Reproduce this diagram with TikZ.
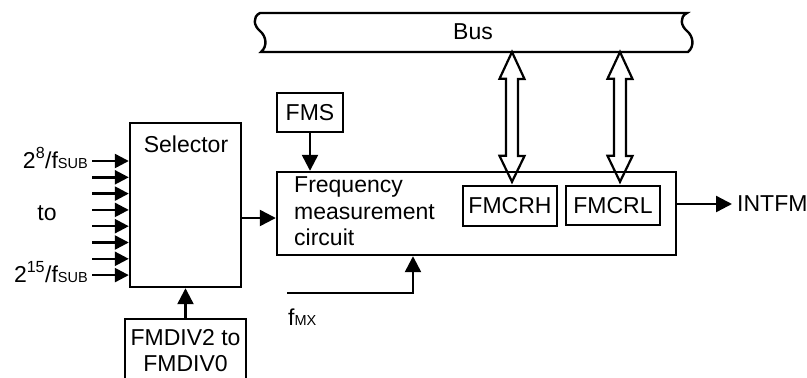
\documentclass[tikz,border=0pt]{standalone}
\usepackage{fontspec}
\setmainfont{Liberation Sans}
\usetikzlibrary{arrows.meta,calc}
\newcommand{\smalltxt}[1]{{\fontsize{14.5}{14.5}\selectfont #1}}

\begin{document}
\begin{tikzpicture}[
  x=1pt, y=-1pt,
  font=\fontsize{23}{26.5}\selectfont,
  line width=2.4pt,
  blockbox/.style={rectangle, draw, inner sep=0pt},
  arrow/.style={-{Triangle[length=16pt,width=16pt]}},
  inarrow/.style={-{Triangle[length=14pt,width=14pt]}},
  busarrow/.style={line width=2.2pt, line join=miter}
]
\clip (0,0) rectangle (807,378);

% bus
\draw (260,13) -- (687,13) .. controls (679,17) and (681,26) .. (687,31)
  .. controls (693,36) and (695,46) .. (688,52) -- (261,52)
  .. controls (268,46) and (266,36) .. (260,31)
  .. controls (254,26) and (252,17) .. (260,13) -- cycle;
\node (bus) at (473,32) {Bus};
\coordinate (busbot) at (473,52);

% blocchi
\node[blockbox, minimum width=111pt, minimum height=164pt] (sel) at (185.5,205) {};
\node[anchor=base] (seltxt) at (186,152) {Selector};
\node[blockbox, minimum width=399pt, minimum height=83pt] (freq) at (476.5,213.5) {};
\node[anchor=west, align=left, inner sep=0pt] (freqtxt) at (293,211.5) {Frequency\\measurement\\circuit};
\node[blockbox, minimum width=66pt, minimum height=39pt] (fms) at (310,112.5) {FMS};
\node[blockbox, minimum width=94pt, minimum height=40pt] (fmcrh) at (510,206) {FMCRH};
\node[blockbox, minimum width=94pt, minimum height=39pt] (fmcrl) at (613,205.5) {FMCRL};
\node[blockbox, minimum width=121pt, minimum height=80pt, anchor=north] (fmdiv) at (185.5,318) {};
\node[align=center, inner sep=0pt] (fmdivtxt) at (185.5,350.5) {FMDIV2 to\\FMDIV0};

% etichette
\node[anchor=base east, inner sep=0pt] (lbltop) at (89,168) {2\textsuperscript{8}/f\smalltxt{SUB}};
\node[anchor=base, inner sep=0pt] (lblto) at (47,220) {to};
\node[anchor=base east, inner sep=0pt] (lblbot) at (89,282) {2\textsuperscript{15}/f\smalltxt{SUB}};
\node[anchor=base west, inner sep=0pt] (fmx) at (287,325) {f\smalltxt{MX}};
\node[anchor=west, inner xsep=4pt, inner ysep=0pt] (intfm) at (732,204) {INTFM};

% ingressi selector
\foreach \i in {0,...,7} {
  \coordinate (in\i) at (92,161+16.3*\i);
  \draw[inarrow] (in\i) -- (in\i -| sel.west);
}

% frecce
\coordinate (selout) at ($(freq.west)+(0,4.5)$);
\draw[arrow] (selout -| sel.east) -- (selout);
\draw[arrow] (fms.south) -- (fms.south |- freq.north);
\draw[arrow] (fmdiv.north) -- (sel.south);
\draw[arrow] (freq.east |- intfm.west) -- (intfm.west);
\coordinate (fmxin) at (287,293);
\coordinate (fmxup) at (413,0);
\draw[arrow] (fmxin) -| (fmxup |- freq.south);

% frecce doppie verso il bus
\foreach \reg/\dx in {fmcrh/2, fmcrl/7} {
  \coordinate (tip-\reg) at ($(\reg.north)+(\dx,-3)$);
  \coordinate (top-\reg) at (tip-\reg |- busbot);
  \draw[busarrow] (top-\reg) -- ++(12.5,27) -- ++(-6.5,0) -- ++(0,77) -- ++(6.5,0)
    -- (tip-\reg) -- ++(-12.5,-26) -- ++(6.5,0) -- ++(0,-77) -- ++(-6.5,0) -- cycle;
}
\end{tikzpicture}
\end{document}
